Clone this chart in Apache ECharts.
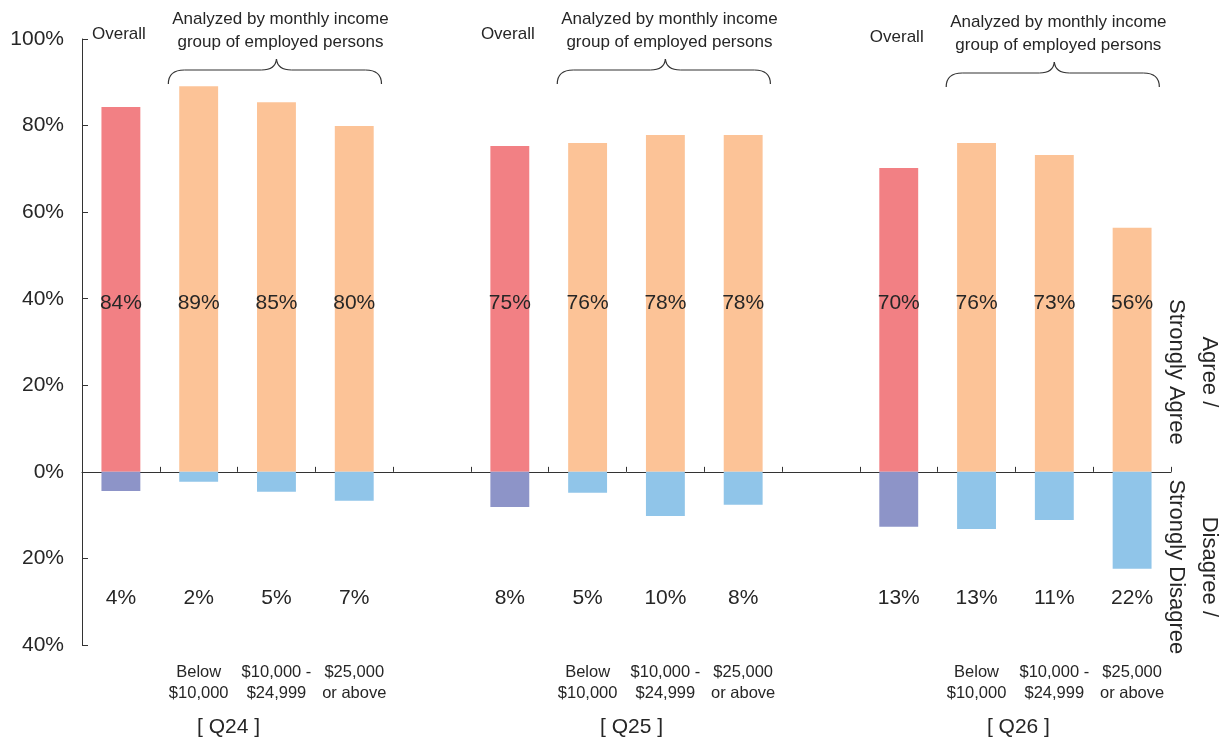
<!DOCTYPE html>
<html><head><meta charset="utf-8">
<script src="https://cdn.jsdelivr.net/npm/echarts@6/dist/echarts.min.js"></script>
<style>html,body{margin:0;padding:0;background:#fff}#c{width:1223px;height:743px}</style>
</head><body><div id="c"></div>
<script>
// ---- data ----
const categories = ['Q24 Overall','Q24 Below $10,000','Q24 $10,000 - $24,999','Q24 $25,000 or above','gap1',
                    'Q25 Overall','Q25 Below $10,000','Q25 $10,000 - $24,999','Q25 $25,000 or above','gap2',
                    'Q26 Overall','Q26 Below $10,000','Q26 $10,000 - $24,999','Q26 $25,000 or above'];
const bottomLabels = ['', 'Below\n$10,000', '$10,000 -\n$24,999', '$25,000\nor above', '',
                      '', 'Below\n$10,000', '$10,000 -\n$24,999', '$25,000\nor above', '',
                      '', 'Below\n$10,000', '$10,000 -\n$24,999', '$25,000\nor above'];
const agree    = [84.3, 89.1, 85.4, 79.9, null, 75.3, 76.0, 77.8, 77.8, null, 70.2, 76.0, 73.2, 56.4];
const disagree = [4.4, 2.3, 4.6, 6.7, null, 8.1, 4.8, 10.2, 7.6, null, 12.7, 13.2, 11.1, 22.4];
const groupNames = ['[ Q24 ]', '[ Q25 ]', '[ Q26 ]'];
const groupStart = [0, 5, 10];
const overallText = 'Overall';
const analyzedText = 'Analyzed by monthly income\ngroup of employed persons';
const agreeSide = 'Agree /\nStrongly Agree';
const disagreeSide = 'Disagree /\nStrongly Disagree';
const yMin = -40, yMax = 100, yStep = 20;
const agreeLabelY = 39.0, disagreeLabelY = -29.2;

// ---- styles ----
const TXT = '#262626';
const FONT = '"Liberation Sans", Arial, sans-serif';
const C_OVERALL_A = '#F28084', C_OVERALL_D = '#8D94C8', C_INC_A = '#FCC397', C_INC_D = '#90C5E9';
const isOverall = i => groupStart.indexOf(i) >= 0;

const chart = echarts.init(document.getElementById('c'), null, {renderer: 'canvas'});

const agreeLbl = [], disLbl = [];
agree.forEach((v, i) => { if (v != null) agreeLbl.push([i, agreeLabelY, v]); });
disagree.forEach((v, i) => { if (v != null) disLbl.push([i, disagreeLabelY, v]); });

const lblStyle = {show: true, position: 'inside', formatter: p => Math.round(p.value[2]) + '%', fontSize: 21, color: TXT, fontFamily: FONT};

chart.setOption({
  animation: false,
  textStyle: {fontFamily: FONT},
  grid: {left: 82, right: 52, top: 39, bottom: 98, containLabel: false},
  xAxis: [{
    type: 'category', data: categories, position: 'bottom',
    axisLine: {onZero: true, lineStyle: {color: '#333', width: 1}},
    axisTick: {show: true, inside: true, length: 5, interval: 0, lineStyle: {color: '#333'}},
    axisLabel: {show: false}, splitLine: {show: false}
  }, {
    type: 'category', data: bottomLabels, position: 'bottom',
    axisLine: {show: false, onZero: false}, axisTick: {show: false},
    axisLabel: {show: true, interval: 0, margin: 17, fontSize: 16.5, lineHeight: 21, color: TXT, fontFamily: FONT},
    splitLine: {show: false}
  }],
  yAxis: {
    type: 'value', min: yMin, max: yMax, interval: yStep,
    axisLine: {show: true, lineStyle: {color: '#333', width: 1}},
    axisTick: {show: true, inside: true, length: 6, lineStyle: {color: '#333'}},
    splitLine: {show: false},
    axisLabel: {formatter: v => Math.abs(v) + '%', fontSize: 21, color: TXT, margin: 18, fontFamily: FONT}
  },
  series: [{
    type: 'bar', name: 'Agree', data: agree, barWidth: '50%', barGap: '-100%',
    itemStyle: {color: p => isOverall(p.dataIndex) ? C_OVERALL_A : C_INC_A}
  }, {
    type: 'bar', name: 'Disagree', data: disagree.map(v => v == null ? null : -v), barWidth: '50%', barGap: '-100%',
    itemStyle: {color: p => isOverall(p.dataIndex) ? C_OVERALL_D : C_INC_D}
  }, {
    type: 'scatter', data: agreeLbl, symbolSize: 0, silent: true, z: 5,
    itemStyle: {opacity: 1}, label: lblStyle
  }, {
    type: 'scatter', data: disLbl, symbolSize: 0, silent: true, z: 5,
    itemStyle: {opacity: 1}, label: lblStyle
  }]
});

// ---- annotations placed from the axes ----
const xp = i => chart.convertToPixel({xAxisIndex: 0}, i);
const yp = v => chart.convertToPixel({yAxisIndex: 0}, v);
const cw = xp(1) - xp(0);
const yTop = yp(yMax), yBottom = yp(yMin), yZero = yp(0);
const xRight = xp(categories.length - 1) + cw / 2;
const dy = [0, 0, 3];
const qdx = [-9, 5, 3];
const els = [];
const stroke = {stroke: '#333', lineWidth: 1.2, fill: null};

groupStart.forEach((s, g) => {
  const o = dy[g];
  els.push({type: 'text', x: xp(s) - 2, y: yTop - 5 + o,
    style: {text: overallText, fill: TXT, font: '17px ' + FONT, textAlign: 'center', textVerticalAlign: 'middle'}});
  const mid = (xp(s + 1) + xp(s + 3)) / 2;
  els.push({type: 'text', x: mid + 4, y: yTop - 8 + o,
    style: {text: analyzedText, fill: TXT, font: '17px ' + FONT, lineHeight: 23, textAlign: 'center', textVerticalAlign: 'middle'}});
  // brace
  const x0 = xp(s + 1) - 0.39 * cw, x1 = xp(s + 3) + 0.35 * cw;
  const cx = mid, yl = yTop + 31 + o, yt = yTop + 20 + o, ye = yTop + 45 + o;
  const r = 16, tr = 15;
  els.push({type: 'bezierCurve', shape: {x1: x0, y1: ye, x2: x0 + r, y2: yl, cpx1: x0, cpy1: yl}, style: stroke});
  els.push({type: 'line', shape: {x1: x0 + r, y1: yl, x2: cx - tr, y2: yl}, style: stroke});
  els.push({type: 'bezierCurve', shape: {x1: cx - tr, y1: yl, x2: cx, y2: yt, cpx1: cx - 1, cpy1: yl}, style: stroke});
  els.push({type: 'bezierCurve', shape: {x1: cx + tr, y1: yl, x2: cx, y2: yt, cpx1: cx + 1, cpy1: yl}, style: stroke});
  els.push({type: 'line', shape: {x1: cx + tr, y1: yl, x2: x1 - r, y2: yl}, style: stroke});
  els.push({type: 'bezierCurve', shape: {x1: x1, y1: ye, x2: x1 - r, y2: yl, cpx1: x1, cpy1: yl}, style: stroke});
  // group label
  els.push({type: 'text', x: xp(s) + 1.5 * cw + qdx[g], y: yBottom + 82,
    style: {text: groupNames[g], fill: TXT, font: '21px ' + FONT, textAlign: 'center', textVerticalAlign: 'middle'}});
});

els.push({type: 'text', x: xRight + 22, y: yZero - 100, rotation: -Math.PI / 2,
  style: {text: agreeSide, fill: TXT, font: '22px ' + FONT, lineHeight: 33, textAlign: 'center', textVerticalAlign: 'middle'}});
els.push({type: 'text', x: xRight + 22, y: yZero + 95, rotation: -Math.PI / 2,
  style: {text: disagreeSide, fill: TXT, font: '22px ' + FONT, lineHeight: 33, textAlign: 'center', textVerticalAlign: 'middle'}});

chart.setOption({graphic: {elements: els}});
</script></body></html>
